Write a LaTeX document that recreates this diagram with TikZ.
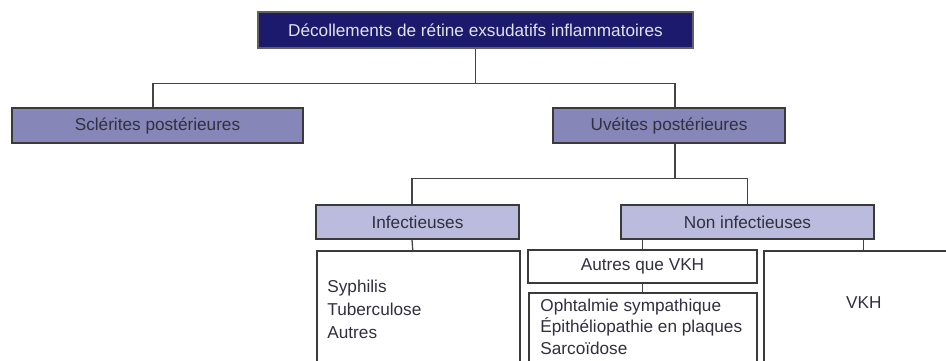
\documentclass[tikz,border=0pt]{standalone}
\usepackage{fontspec}
\setsansfont{Liberation Sans}
\usepackage{xcolor}
\definecolor{drtNavy}{HTML}{1B1A6C}
\definecolor{drtMid}{HTML}{8786B8}
\definecolor{drtSoft}{HTML}{BBBBDD}
\definecolor{drtBorder}{HTML}{3A3A3A}
\definecolor{drtLine}{HTML}{444444}
\definecolor{drtText}{HTML}{303040}
\definecolor{drtLight}{HTML}{E2E2EC}
\usepackage{tikz}
\usetikzlibrary{positioning,calc}
\tikzset{
    basic/.style={
        draw=drtBorder,
        rectangle,
        line width=0.75pt,
        inner sep=0pt,
        align=center,
        text=drtText,
        font=\fontsize{8.6}{11}\selectfont\sffamily
    },
    rootbox/.style={
        basic,
        fill=drtNavy,
        draw=drtBorder!80,
        text=drtLight,
        minimum width=217.5pt,
        minimum height=18pt
    },
    groupbox/.style={
        basic,
        fill=drtMid,
        minimum height=17.5pt
    },
    subbox/.style={
        basic,
        fill=drtSoft,
        minimum height=17pt
    },
    plainbox/.style={
        basic,
        fill=white
    },
    listtext/.style={
        anchor=north west,
        inner sep=0pt,
        align=left,
        text=drtText,
        font=\fontsize{8.6}{11.5}\selectfont\sffamily
    },
    link/.style={
        draw=drtLine,
        line width=0.65pt
    }
}

\begin{document}
\begin{tikzpicture}[x=0.5pt,y=-0.5pt]
    \clip (0,0) rectangle (946,360);

    % Root
    \node[rootbox] (root) at (475.5,30) {D\'ecollements de r\'etine exsudatifs inflammatoires};

    % Second level
    \node[groupbox, minimum width=145.5pt] (sclerites) at (157.5,125.5) {Scl\'erites post\'erieures};
    \node[groupbox, minimum width=116pt] (uveites) at (669,125.5) {Uv\'eites post\'erieures};

    % Third level
    \node[subbox, minimum width=101.5pt] (infect) at (417.5,222) {Infectieuses};
    \node[subbox, minimum width=126.5pt] (noninfect) at (747.5,222) {Non infectieuses};

    % Lists
    \node[plainbox, anchor=north west, minimum width=101.5pt, minimum height=65pt] (inflist) at (316,250) {};
    \node[listtext] (inftext) at ([shift={(11,29.5)}]inflist.north west) {Syphilis\\Tuberculose\\Autres};

    \node[plainbox, minimum width=114.5pt, minimum height=16.5pt] (autres) at (642.5,266.5) {Autres que VKH};
    \node[plainbox, anchor=north west, minimum width=114pt, minimum height=45pt] (ophlist) at (528,292) {};
    \node[listtext, font=\fontsize{8.6}{10.8}\selectfont\sffamily] (ophtext) at ([shift={(12,6.5)}]ophlist.north west) {Ophtalmie sympathique\\\'Epith\'eliopathie en plaques\\Sarco\"idose};

    \node[plainbox, anchor=north west, minimum width=100pt, minimum height=65pt] (vkh) at (763,250) {};
    \node[basic, draw=none] (vkhtext) at ([shift={(0,53)}]vkh.north) {VKH};

    % Connectors
    \draw[link] (root.south) -- ++(0,35) coordinate (fork1);
    \draw[link] ([xshift=-2.25pt]sclerites.north) |- (fork1) -| ([xshift=3pt]uveites.north);
    \draw[link] ([xshift=3pt]uveites.south) -- ++(0,35) coordinate (fork2);
    \draw[link] ([xshift=-2.75pt]infect.north) |- (fork2) -| (noninfect.north);
    \draw[link] ([xshift=-2.75pt]infect.south) -- ([xshift=-2.75pt]inflist.north);
    \draw[link] (noninfect.south -| autres.north) -- (autres.north);
    \draw[link] (noninfect.south -| vkh.north) -- (vkh.north);
    \draw[link] (autres.south) -- (autres.south |- ophlist.north);
\end{tikzpicture}
\end{document}
